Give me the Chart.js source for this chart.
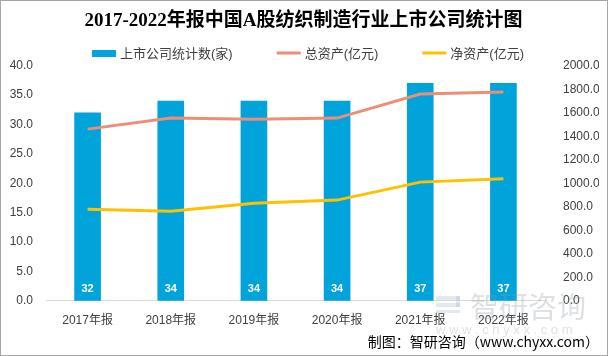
<!DOCTYPE html>
<html><head><meta charset="utf-8">
<script src="https://cdn.jsdelivr.net/npm/chart.js@4.4.1/dist/chart.umd.min.js"></script>
<style>html,body{margin:0;padding:0;background:#fff}#wrap{width:608px;height:356px}</style>
</head><body><div id="wrap"><canvas id="c" width="608" height="356"></canvas></div>
<script>
const categories = ['2017年报','2018年报','2019年报','2020年报','2021年报','2022年报'];
const companyCount = [32, 34, 34, 34, 37, 37];
const totalAssets = [1461, 1555, 1546, 1555, 1759, 1776];
const netAssets = [780, 763, 831, 857, 1010, 1038];
const leftTicks = [0,5,10,15,20,25,30,35,40];
const rightTicks = [0,200,400,600,800,1000,1200,1400,1600,1800,2000];

const FONT = '"Liberation Sans","Noto Sans CJK SC",sans-serif';

const deco = {
  id:'deco',
  beforeDraw(chart){
    const c = chart.ctx;
    c.save();
    c.fillStyle='#fff'; c.fillRect(0,0,chart.width,chart.height);
    c.restore();
  },
  afterDatasetsDraw(chart){
    const c = chart.ctx;
    const meta = chart.getDatasetMeta(0);
    c.save();
    c.font = 'bold 11px ' + FONT;
    c.fillStyle = '#fff';
    c.textAlign='center'; c.textBaseline='middle';
    const y0 = chart.scales.y.getPixelForValue(0);
    meta.data.forEach((bar,i)=>{ c.fillText(String(companyCount[i]), bar.x, y0-12); });
    // watermark
    c.globalAlpha = 0.3;
    c.fillStyle='#8f9aa6';
    c.font = '29px "Noto Sans CJK SC",sans-serif';
    c.textAlign='left'; c.textBaseline='middle';
    c.fillText('智研咨询', 470, 307);
    c.font = '13px ' + FONT;
    c.fillText('w w w . c h y x x . c o m', 436, 330);
    c.fillStyle='#9fb6cc';
    c.fillRect(436, 296, 24, 4); c.fillRect(436, 303, 24, 4); c.fillRect(436, 310, 24, 3);
    c.fillRect(456, 296, 4, 11);
    c.restore();
    // legend
    const items = chart.data.datasets.map((d,i)=>({text:d.label, color:d.backgroundColor, line:i>0}));
    c.save();
    c.font = '13px ' + FONT;
    c.textBaseline='middle'; c.textAlign='left';
    const ly = 53, sw = 24, gap = 4, sep = 44;
    items.forEach(it=>{ it.w = sw + gap + c.measureText(it.text).width; });
    let x = 92;
    items.forEach(it=>{
      c.fillStyle = it.color;
      if (it.line) { c.fillRect(x, ly-1.5, sw, 3); }
      else { c.fillRect(x, ly-3, sw, 7); }
      c.fillStyle = '#404040';
      c.fillText(it.text, x + sw + gap, ly+1);
      x += it.w + sep;
    });
    c.restore();
  },
  afterDraw(chart){
    const c = chart.ctx;
    c.save();
    c.strokeStyle='#A6A6A6'; c.lineWidth=1;
    c.strokeRect(0.5,0.5,chart.width-1,chart.height-1);
    c.restore();
  }
};

new Chart(document.getElementById('c'), {
  data: {
    labels: categories,
    datasets: [
      {type:'bar', label:'上市公司统计数(家)', data: companyCount, backgroundColor:'#00A3DA', yAxisID:'y', barThickness:26, order:3},
      {type:'line', label:'总资产(亿元)', data: totalAssets, borderColor:'#EE8E78', backgroundColor:'#EE8E78', borderWidth:3, pointRadius:0, yAxisID:'y1', tension:0, order:1},
      {type:'line', label:'净资产(亿元)', data: netAssets, borderColor:'#FFC000', backgroundColor:'#FFC000', borderWidth:3, pointRadius:0, yAxisID:'y1', tension:0, order:2}
    ]
  },
  options: {
    responsive:false, animation:false,
    layout:{padding:{left:8, right:9, top:0, bottom:4}},
    plugins:{
      title:{display:true, text:'2017-2022年报中国A股纺织制造行业上市公司统计图', color:'#000',
        font:{family:'"Liberation Serif","Noto Sans CJK SC",serif', size:19, weight:'bold'}, padding:{top:10,bottom:33}},
      subtitle:{display:true, position:'bottom', align:'end', text:'制图：智研咨询（www.chyxx.com）', color:'#000',
        font:{family:'"Noto Sans CJK SC","Liberation Serif",serif', size:14}, padding:{top:-8,bottom:2}},
      legend:{display:false},
      tooltip:{enabled:false}
    },
    scales:{
      x:{grid:{display:false, drawTicks:false}, border:{display:true,color:'#D9D9D9'},
        ticks:{color:'#404040', font:{family:FONT,size:12}, padding:13}},
      y:{position:'left', min:0, max:40, grid:{display:false}, border:{display:false},
        afterBuildTicks(s){ s.ticks = leftTicks.map(v=>({value:v})); },
        afterFit(s){ s.width = 38; },
        ticks:{color:'#404040', font:{family:FONT,size:12}, padding:5, callback:v=>v.toFixed(1)}},
      y1:{position:'right', min:0, max:2000, grid:{display:false}, border:{display:false},
        afterBuildTicks(s){ s.ticks = rightTicks.map(v=>({value:v})); },
        afterFit(s){ s.width = 54; },
        ticks:{color:'#404040', font:{family:FONT,size:12}, padding:10, callback:v=>v.toFixed(1)}}
    }
  },
  plugins:[deco]
});
</script></body></html>
